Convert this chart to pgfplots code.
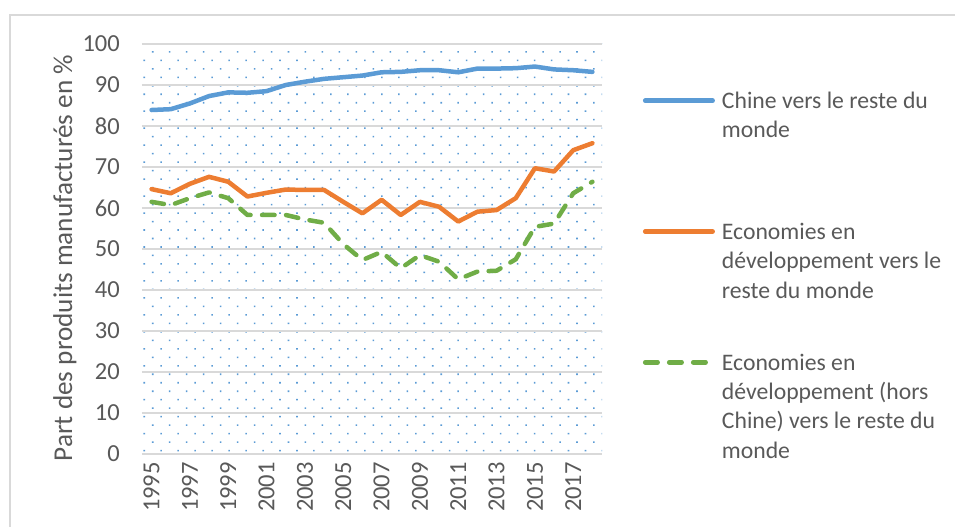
\documentclass[border=0pt]{standalone}
\usepackage{fontspec}
\setmainfont{Carlito}
\usepackage{pgfplots}
\pgfplotsset{compat=1.18}
\usetikzlibrary{patterns.meta}
\definecolor{cblue}{HTML}{5B9BD5}
\definecolor{corange}{HTML}{ED7D31}
\definecolor{cgreen}{HTML}{70AD47}
\definecolor{txtgray}{HTML}{595959}
\definecolor{gridgray}{HTML}{D9D9D9}
\newcommand{\chartfont}{\fontsize{24.5bp}{29bp}\selectfont}
\newcommand{\legfont}{\fontsize{23.7bp}{29.3bp}\selectfont}
\newcommand{\titlefont}{\fontsize{27.2bp}{32bp}\selectfont}
% legend text: wrapped, zero size so that row sep alone sets the spacing
\newcommand{\entry}[1]{\smash{\parbox[t]{240bp}{\raggedright\strut #1}}}

\begin{document}
\begin{tikzpicture}
\useasboundingbox (-142bp,-73bp) rectangle (813bp,454bp);
\draw[gridgray, line width=1.3bp] (-132bp,-90bp) -- (-132bp,439bp) -- (830bp,439bp);
\begin{axis}[
  scale only axis,
  width=460bp, height=410bp,
  xmin=1994.5, xmax=2018.5,
  ymin=0, ymax=100,
  xtick={1995,1997,...,2017},
  ytick={0,10,...,100},
  ymajorgrids,
  grid style={gridgray, line width=1.5bp},
  axis line style={draw=none},
  major tick length=0pt,
  tick label style={font=\chartfont, text=txtgray, inner sep=0pt},
  /pgf/number format/assume math mode=true,
  /pgf/number format/1000 sep={},
  yticklabel style={anchor=east, xshift=-22bp},
  xticklabel style={yshift=-8bp, rotate=90, anchor=east},
  ylabel={Part des produits manufacturés en \%},
  ylabel style={at={(axis description cs:-0.1674,0.478)}, anchor=center, font=\titlefont, text=txtgray},
  axis background/.style={pattern={Dots[distance=12bp, radius=1.1bp, angle=45]}, pattern color=cblue},
  legend image code/.code={
    \path[draw=none, fill=none] (2.25bp,-10bp) -- (2.25bp,20bp);
    \draw[#1, line cap=round] (2.25bp,8bp) -- (69.75bp,8bp);},
  legend style={at={(axis description cs:1.089,0.891)}, anchor=north west,
    draw=none, fill=none, inner sep=0pt, outer sep=0pt,
    column sep=5bp, row sep=100.8bp, font=\legfont, text=txtgray,
    cells={anchor=base west, inner sep=0pt}},
]
\addplot[cblue, line width=4.5bp, line join=round, line cap=round, mark=none] coordinates {
  (1995,83.9) (1996,84.1) (1997,85.5) (1998,87.3) (1999,88.2) (2000,88.1)
  (2001,88.5) (2002,90.0) (2003,90.8) (2004,91.5) (2005,91.9) (2006,92.3)
  (2007,93.1) (2008,93.2) (2009,93.6) (2010,93.6) (2011,93.1) (2012,94.0)
  (2013,94.0) (2014,94.1) (2015,94.5) (2016,93.8) (2017,93.6) (2018,93.2)
};
\addlegendentry{\entry{Chine vers le reste du monde}}
\addplot[corange, line width=4.5bp, line join=round, line cap=round, mark=none] coordinates {
  (1995,64.6) (1996,63.6) (1997,65.9) (1998,67.6) (1999,66.4) (2000,62.8)
  (2001,63.7) (2002,64.5) (2003,64.4) (2004,64.4) (2005,61.5) (2006,58.7)
  (2007,62.0) (2008,58.3) (2009,61.5) (2010,60.3) (2011,56.7) (2012,59.1)
  (2013,59.5) (2014,62.4) (2015,69.7) (2016,68.9) (2017,74.1) (2018,75.8)
};
\addlegendentry{\entry{Economies en développement vers le reste du monde}}
\addplot[cgreen, line width=4.5bp, line join=round, line cap=round, dash pattern=on 12.5bp off 11.5bp, mark=none] coordinates {
  (1995,61.5) (1996,60.7) (1997,62.4) (1998,63.8) (1999,62.4) (2000,58.3)
  (2001,58.3) (2002,58.3) (2003,57.2) (2004,56.4) (2005,51.2) (2006,47.3)
  (2007,49.3) (2008,45.3) (2009,48.5) (2010,46.9) (2011,42.6) (2012,44.5)
  (2013,44.7) (2014,47.5) (2015,55.4) (2016,56.2) (2017,63.6) (2018,66.4)
};
\addlegendentry{\entry{Economies en développement (hors Chine) vers le reste du monde}}
\end{axis}
\end{tikzpicture}
\end{document}
